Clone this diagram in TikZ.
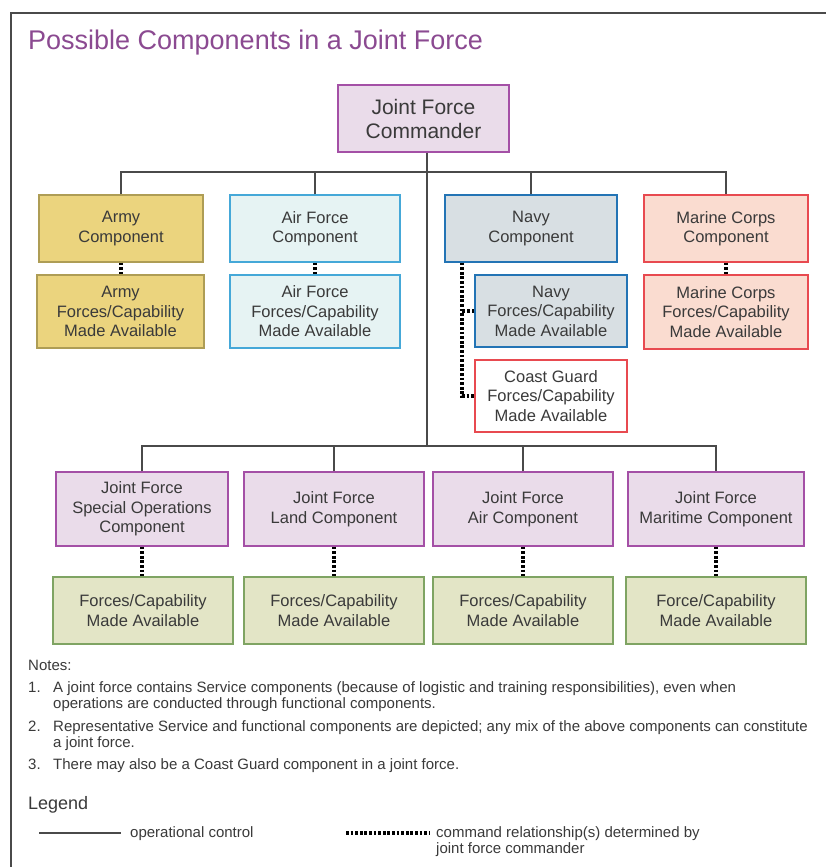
\documentclass[tikz,border=0pt]{standalone}
\usepackage{fontspec}
\setmainfont{Liberation Sans}

\definecolor{titlepurple}{HTML}{8B4A91}
\definecolor{txtgray}{HTML}{3A3A3A}
\definecolor{linegray}{HTML}{4A4A4A}
\definecolor{jffill}{HTML}{EADCEA}
\definecolor{jfdraw}{HTML}{A450A6}
\definecolor{armyfill}{HTML}{EBD47E}
\definecolor{armydraw}{HTML}{AE9D55}
\definecolor{affill}{HTML}{E6F3F3}
\definecolor{afdraw}{HTML}{45A8D8}
\definecolor{navyfill}{HTML}{D8DFE3}
\definecolor{navydraw}{HTML}{2374B5}
\definecolor{mcfill}{HTML}{FADCD0}
\definecolor{mcdraw}{HTML}{E84A50}
\definecolor{forcefill}{HTML}{E3E5C6}
\definecolor{forcedraw}{HTML}{7FA463}

\begin{document}
\begin{tikzpicture}[x=1pt,y=-1pt]
\tikzstyle{unit}=[draw, line width=1.2pt, align=center, text=txtgray, inner sep=0pt, font=\fontsize{16.5}{19.5}\selectfont]
\tikzstyle{jf}=[unit, fill=jffill, draw=jfdraw]
\tikzstyle{army}=[unit, fill=armyfill, draw=armydraw]
\tikzstyle{airf}=[unit, fill=affill, draw=afdraw]
\tikzstyle{navy}=[unit, fill=navyfill, draw=navydraw]
\tikzstyle{marine}=[unit, fill=mcfill, draw=mcdraw]
\tikzstyle{cg}=[unit, fill=white, draw=mcdraw]
\tikzstyle{force}=[unit, fill=forcefill, draw=forcedraw]
\tikzstyle{opcon}=[draw=linegray, line width=1.4pt]
\tikzstyle{cmdrel}=[draw=black, line width=3.2pt, dash pattern=on 2.8pt off 1.8pt]
\tikzstyle{note}=[inner sep=0pt, text=txtgray, font=\fontsize{15}{16}\selectfont]

\useasboundingbox (0,0) rectangle (826,867);
\fill[white] (0,0) rectangle (826,867);
\draw[linegray, line width=1.5pt] (826,13) -- (11,13) -- (11,867);

\node[anchor=base west, inner sep=0pt, text=titlepurple, font=\fontsize{27}{31}\selectfont] (title) at (28,50) {Possible Components in a Joint Force};

% commander and service components
\node[jf, minimum width=171pt, minimum height=67pt, font=\fontsize{21}{24}\selectfont] (jfc) at (423.5,118.5) {Joint Force\\Commander};

\node[army, minimum width=164pt, minimum height=67pt] (army) at (121,228.5) {Army\\Component};
\node[army, minimum width=167pt, minimum height=73pt] (armyf) at (120.5,311.5) {Army\\Forces/Capability\\Made Available};
\node[airf, minimum width=170pt, minimum height=67pt] (afc) at (315,228.5) {Air Force\\Component};
\node[airf, minimum width=170pt, minimum height=73pt] (aff) at (315,311.5) {Air Force\\Forces/Capability\\Made Available};
\node[navy, minimum width=172pt, minimum height=67pt] (navy) at (531,228.5) {Navy\\Component};
\node[navy, minimum width=152pt, minimum height=72pt] (navyf) at (551,311) {Navy\\Forces/Capability\\Made Available};
\node[cg, minimum width=152pt, minimum height=72pt] (cgf) at (551,396) {Coast Guard\\Forces/Capability\\Made Available};
\node[marine, minimum width=164pt, minimum height=67pt] (mcc) at (726,228.5) {Marine Corps\\Component};
\node[marine, minimum width=164pt, minimum height=74pt] (mcf) at (726,312) {Marine Corps\\Forces/Capability\\Made Available};

% functional components
\node[jf, minimum width=172pt, minimum height=74pt] (sof) at (142,509) {Joint Force\\Special Operations\\Component};
\node[jf, minimum width=180pt, minimum height=74pt] (jflcc) at (334,509) {Joint Force\\Land Component};
\node[jf, minimum width=180pt, minimum height=74pt] (jfacc) at (523,509) {Joint Force\\Air Component};
\node[jf, minimum width=176pt, minimum height=74pt] (jfmcc) at (716,509) {Joint Force\\Maritime Component};

\foreach \c/\x/\f in {sof/143/Forces, jflcc/334/Forces, jfacc/523/Forces, jfmcc/716/Force} {
\node[force, minimum width=180pt, minimum height=67pt] (\c f) at (\x,610.5) {\f/Capability\\Made Available};
\draw[cmdrel] (\c.south) -- (\c.south |- \c f.north);
}

\coordinate (bus1) at (427,172);
\coordinate (bus2) at (427,446);
\coordinate (nvx) at (462,0);

\draw[opcon] (jfc.south -| bus1) -- (bus2);
\draw[opcon] (army.north) |- (bus1) -| (mcc.north);
\draw[opcon] (afc.north) -- (afc.north |- bus1);
\draw[opcon] (navy.north) -- (navy.north |- bus1);
\draw[opcon] (sof.north) |- (bus2) -| (jfmcc.north);
\draw[opcon] (jflcc.north) -- (jflcc.north |- bus2);
\draw[opcon] (jfacc.north) -- (jfacc.north |- bus2);

\draw[cmdrel] (army.south) -- (army.south |- armyf.north);
\draw[cmdrel] (afc.south) -- (aff.north);
\draw[cmdrel] (mcc.south) -- (mcf.north);
\draw[cmdrel] (navy.south -| nvx) |- (cgf.west);
\draw[cmdrel] (navyf.west) -- (navyf.west -| nvx);

% notes
\node[note, anchor=base west] (notes) at (28,670) {Notes:};
\node[note, anchor=base west] (n1) at (28,692) {1.};
\node[note, anchor=base west, align=left] (t1) at (53,708) {A joint force contains Service components (because of logistic and training responsibilities), even when\\operations are conducted through functional components.};
\node[note, anchor=base west] (n2) at (28,731) {2.};
\node[note, anchor=base west, align=left] (t2) at (53,747) {Representative Service and functional components are depicted; any mix of the above components can constitute\\a joint force.};
\node[note, anchor=base west] (n3) at (28,769) {3.};
\node[note, anchor=base west] (t3) at (53,769) {There may also be a Coast Guard component in a joint force.};

% legend
\node[note, anchor=base west, font=\fontsize{18}{20}\selectfont] (legend) at (28,809) {Legend};
\coordinate (ocl) at (39,833);
\coordinate (ocr) at (121,833);
\draw[opcon] (ocl) -- (ocr);
\node[note, anchor=base west] (octext) at (130,837) {operational control};
\coordinate (crl) at (346,833);
\coordinate (crr) at (429,833);
\draw[cmdrel] (crl) -- (crr);
\node[note, anchor=base west, align=left] (crtext) at (436,853) {command relationship(s) determined by\\joint force commander};
\end{tikzpicture}
\end{document}
